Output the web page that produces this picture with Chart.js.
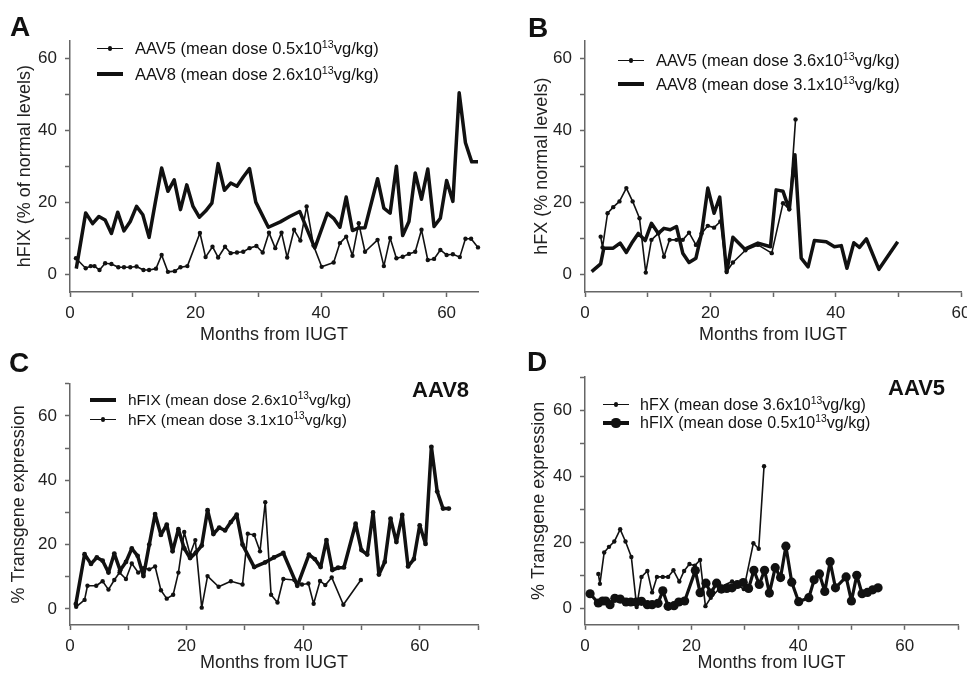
<!DOCTYPE html>
<html>
<head>
<meta charset="utf-8">
<script src="https://cdn.jsdelivr.net/npm/chart.js@4.4.1/dist/chart.umd.min.js"></script>
<style>
  html, body { margin: 0; padding: 0; background: #fff; overflow: hidden; width: 967px; height: 674px; }
  body { position: relative; font-family: "Liberation Sans", Arial, sans-serif; color: #111; }
  canvas { position: absolute; }
  .lbl { position: absolute; white-space: nowrap; line-height: 1; }
  .letter { font-weight: bold; font-size: 28px; }
  .tag { font-weight: bold; font-size: 22px; }
  .leg sup { font-size: 0.65em; vertical-align: 0.55em; line-height: 0; }
  .swatch { position: absolute; background: #111; }
</style>
</head>
<body>
<canvas id="chartA" width="482" height="346" style="left:0;top:0"></canvas>
<canvas id="chartB" width="447" height="346" style="left:520px;top:0"></canvas>
<canvas id="chartC" width="482" height="334" style="left:0;top:340px"></canvas>
<canvas id="chartD" width="447" height="334" style="left:520px;top:340px"></canvas>

<div class="lbl letter" style="left:10px;top:13px">A</div>
<div class="lbl letter" style="left:528px;top:14px">B</div>
<div class="lbl letter" style="left:9px;top:349px">C</div>
<div class="lbl letter" style="left:527px;top:348px">D</div>
<div class="lbl tag" style="left:412px;top:379px">AAV8</div>
<div class="lbl tag" style="left:888px;top:377px">AAV5</div>

<script>
// hFIX, AAV8 (mean dose 2.6x10^13 vg/kg)
const aav8FixMonths = [1, 2.5, 3.6, 4.6, 5.6, 6.6, 7.6, 8.6, 9.6, 10.6, 11.6, 12.6, 13.6, 14.6, 15.6, 16.6, 17.6, 18.6, 19.6, 20.6,
    21.6, 22.6, 23.6, 24.6, 25.6, 26.6, 27.6, 28.6, 29.6, 31.6, 33.5, 35, 36.6, 39, 41, 42, 43, 44, 45, 46,
    47, 49, 50, 51, 52, 53, 54, 55, 56, 57, 58, 59, 60, 61, 62, 63, 64, 65];
const aav8FixLevels = [1.5, 17, 14, 16, 15, 11.3, 17.2, 12, 14.6, 18.8, 16.5, 10.2, 20, 29.5, 23, 26.2, 17.9, 24.8, 18.8, 15.8,
    17.5, 19.7, 30.7, 23.3, 25.3, 24.4, 27, 29.3, 20, 13, 14.5, 16, 17.4, 7.2, 16.9, 15.5, 13, 21.4, 12.1, 12.8,
    12.9, 26.5, 18.3, 16.9, 30, 10.7, 14.6, 28.1, 20.8, 29.2, 13.2, 15.5, 26, 20.2, 50.4, 36.5, 31.2, 31.2];

// hFIX, AAV5 (mean dose 0.5x10^13 vg/kg)
const aav5FixMonths = [0.95, 2.5, 3.3, 3.9, 4.7, 5.6, 6.6, 7.7, 8.6, 9.6, 10.6, 11.7, 12.6, 13.7, 14.6, 15.6, 16.7, 17.6, 18.7, 20.7,
    21.6, 22.7, 23.6, 24.7, 25.6, 26.6, 27.6, 28.6, 29.7, 30.7, 31.7, 32.7, 33.7, 34.6, 35.7, 36.7, 37.7, 38.8, 40.1, 42,
    43, 44, 45, 46, 47, 49, 50, 51, 52, 53, 54, 55, 56, 57, 58, 59, 60, 61, 62.1, 63, 63.9, 65];
const aav5FixLevels = [4.4, 1.6, 2.2, 2.2, 1.1, 3, 2.8, 1.9, 1.9, 1.9, 2.1, 1.1, 1.1, 1.5, 5.3, 0.6, 0.8, 1.9, 2.2, 11.4,
    4.7, 7.6, 4.6, 7.6, 5.8, 6, 6.2, 7.2, 7.8, 6, 11.5, 7.2, 11.5, 4.6, 12.3, 9.3, 18.8, 7.9, 2, 3.2,
    8.6, 10.4, 5.1, 14.1, 6.2, 9.5, 2.2, 10, 4.4, 4.8, 5.6, 6.2, 12.3, 3.9, 4.2, 6.7, 5.3, 5.5, 4.7, 9.8, 9.8, 7.4];

// hFX, AAV8 (mean dose 3.1x10^13 vg/kg)
const aav8FxMonths = [1.06, 2.5, 3, 4.5, 5.6, 6.6, 7.6, 8.5, 9.6, 10.6, 11.7, 12.6, 13.6, 14.6, 15.6, 16.6, 17.7, 18.6, 19.6, 20.6,
    21.5, 22.6, 23.6, 25.5, 27.6, 29.6, 30.5, 31.6, 32.6, 33.5, 34.5, 35.6, 36.6, 38.5, 39.8, 40.9, 41.8, 42.9, 43.8, 44.9,
    46.9, 49.9];
const aav8FxLevels = [0.65, 2.8, 7.2, 7.2, 8.6, 6, 9, 11.3, 9.3, 14.1, 11.3, 12.7, 12.3, 13.2, 5.8, 3.2, 4.4, 11.3, 23.9, 16.9,
    21.4, 0.4, 10.2, 6.9, 8.6, 7.6, 23.4, 23, 17.9, 33.2, 4.4, 2, 9.3, 9, 7.6, 7.9, 1.6, 8.7, 7.4, 9.8,
    1.3, 9];

// hFX, AAV5 (mean dose 3.6x10^13 vg/kg)
const aav5FxMonths = [2.5, 2.8, 3.6, 4.5, 5.5, 6.6, 7.6, 8.7, 9.7, 10.6, 11.7, 12.6, 13.5, 14.6, 15.6, 16.6, 17.7, 18.6, 19.6, 20.6,
    21.6, 22.6, 23.6, 25.6, 27.6, 29.8, 31.6, 32.6, 33.6];
const aav5FxLevels = [10.4, 7.4, 16.9, 18.6, 20.2, 23.9, 20.2, 15.5, 0.4, 9.5, 11.3, 4.8, 9.5, 9.5, 9.5, 11.5, 8.1, 11.3, 13.4, 12.9,
    14.6, 0.65, 3.2, 6.6, 8.1, 5.8, 19.7, 18, 43];

// panel D only shows the AAV5 hFIX series up to month 55
const panelDFixLastMonth = 55.5;

const ticks60 = [0, 10, 20, 30, 40, 50, 60];
const ticks70 = [0, 10, 20, 30, 40, 50, 60, 70];

const INK = '#111';
const AXIS = '#666';
const FONT = '"Liberation Sans", Arial, sans-serif';

function points(months, levels) {
    return months.map((m, i) => ({ x: m, y: levels[i] }));
}

function series(data, lineWidth, radius) {
    return {
        data,
        borderColor: INK,
        backgroundColor: INK,
        borderWidth: lineWidth,
        borderJoinStyle: 'round',
        pointRadius: radius,
        pointBorderWidth: 0,
        pointBackgroundColor: INK,
        tension: 0,
        clip: false
    };
}

function axisBase(tickValues) {
    return {
        type: 'linear',
        afterBuildTicks: s => { s.ticks = tickValues.map(v => ({ value: v })); },
        ticks: {
            autoSkip: false,
            maxRotation: 0,
            color: '#222',
            font: { family: FONT, size: 17 },
            callback: v => (v % 20 === 0 ? String(v) : '')
        },
        grid: { display: true, drawOnChartArea: false, drawTicks: true, tickLength: 5, tickColor: AXIS, tickWidth: 1.5 },
        border: { display: true, color: AXIS, width: 1.5 }
    };
}

function makePanel(id, p) {
    const x = axisBase(p.xTicks);
    x.min = 0;
    x.max = p.xMax;
    x.ticks.padding = 6;
    x.afterFit = s => { s.height = p.xHeight; s.paddingLeft = 0; s.paddingRight = 0; };
    x.title = { display: true, text: 'Months from IUGT', color: '#222', font: { family: FONT, size: 18 }, padding: { top: 0, bottom: 0 } };

    const y = axisBase(p.yTicks);
    y.min = -5;
    y.max = p.yMax;
    y.ticks.padding = 8;
    y.afterFit = s => { s.width = p.yWidth; s.paddingTop = 0; s.paddingBottom = 0; };
    y.title = { display: true, text: p.yTitle, color: '#222', font: { family: FONT, size: 18 }, padding: { top: p.yTitlePad, bottom: 0 } };

    new Chart(document.getElementById(id), {
        type: 'line',
        data: { datasets: p.datasets },
        options: {
            responsive: false,
            animation: false,
            layout: { padding: { left: 0, top: p.padTop, right: p.padRight, bottom: 0 } },
            plugins: { legend: { display: false }, tooltip: { enabled: false } },
            scales: { x, y }
        }
    });
}

function addLegendRow(x, y, lineWidth, radius, textX, fontSize, html) {
    const line = document.createElement('div');
    line.className = 'swatch';
    line.style.left = x + 'px';
    line.style.top = (y - lineWidth / 2) + 'px';
    line.style.width = '26px';
    line.style.height = lineWidth + 'px';
    document.body.appendChild(line);
    if (radius > 0) {
        const dot = document.createElement('div');
        dot.className = 'swatch';
        dot.style.left = (x + 13 - radius) + 'px';
        dot.style.top = (y - radius) + 'px';
        dot.style.width = dot.style.height = (radius * 2) + 'px';
        dot.style.borderRadius = '50%';
        document.body.appendChild(dot);
    }
    const label = document.createElement('div');
    label.className = 'lbl leg';
    label.style.left = textX + 'px';
    label.style.top = (y - fontSize / 2) + 'px';
    label.style.fontSize = fontSize + 'px';
    label.innerHTML = html;
    document.body.appendChild(label);
}

const aav8Fix = points(aav8FixMonths, aav8FixLevels);
const aav5Fix = points(aav5FixMonths, aav5FixLevels);
const aav8Fx = points(aav8FxMonths, aav8FxLevels);
const aav5Fx = points(aav5FxMonths, aav5FxLevels);

makePanel('chartA', {
    xMax: 65, yMax: 65, xTicks: ticks60, yTicks: ticks60,
    yWidth: 70, xHeight: 54, padTop: 40.3, padRight: 2,
    yTitle: 'hFIX (% of normal levels)', yTitlePad: 14,
    datasets: [series(aav8Fix, 3.5, 0), series(aav5Fix, 1.6, 2.2)]
});

makePanel('chartB', {
    xMax: 60, yMax: 65, xTicks: ticks60, yTicks: ticks60,
    yWidth: 65, xHeight: 54, padTop: 40.3, padRight: 6,
    yTitle: 'hFX (% normal levels)', yTitlePad: 11,
    datasets: [series(aav8Fx, 3.5, 0), series(aav5Fx, 1.6, 2.2)]
});

makePanel('chartC', {
    xMax: 70, yMax: 70, xTicks: ticks70, yTicks: ticks70,
    yWidth: 70, xHeight: 49, padTop: 43.8, padRight: 1,
    yTitle: '% Transgene expression', yTitlePad: 8,
    datasets: [series(aav8Fix, 3.5, 2.4), series(aav8Fx, 1.6, 2.2)]
});

makePanel('chartD', {
    xMax: 70, yMax: 70, xTicks: ticks70, yTicks: ticks70,
    yWidth: 65, xHeight: 49.2, padTop: 37, padRight: 9,
    yTitle: '% Transgene expression', yTitlePad: 8,
    datasets: [
        series(aav5Fix.filter(pt => pt.x <= panelDFixLastMonth), 3.2, 4.6),
        series(aav5Fx, 1.6, 2.2)
    ]
});

addLegendRow(97, 48.5, 1.6, 2.2, 135, 16.5, 'AAV5 (mean dose 0.5x10<sup>13</sup>vg/kg)');
addLegendRow(97, 74, 4, 0, 135, 16.5, 'AAV8 (mean dose 2.6x10<sup>13</sup>vg/kg)');
addLegendRow(618, 60.5, 1.6, 2.2, 656, 16.5, 'AAV5 (mean dose 3.6x10<sup>13</sup>vg/kg)');
addLegendRow(618, 84, 4, 0, 656, 16.5, 'AAV8 (mean dose 3.1x10<sup>13</sup>vg/kg)');
addLegendRow(90, 400, 3.5, 2.4, 128, 15.5, 'hFIX (mean dose 2.6x10<sup>13</sup>vg/kg)');
addLegendRow(90, 419.5, 1.6, 2.2, 128, 15.5, 'hFX (mean dose 3.1x10<sup>13</sup>vg/kg)');
addLegendRow(603, 404.5, 1.6, 2.2, 640, 16, 'hFX (mean dose 3.6x10<sup>13</sup>vg/kg)');
addLegendRow(603, 423, 3.5, 4.6, 640, 16, 'hFIX (mean dose 0.5x10<sup>13</sup>vg/kg)');
</script>
</body>
</html>
